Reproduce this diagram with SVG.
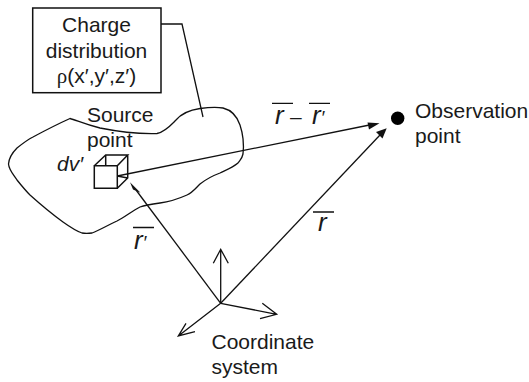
<svg xmlns="http://www.w3.org/2000/svg" width="529" height="382" viewBox="0 0 529 382">
<style>
text{font-family:"Liberation Sans",Arial,sans-serif;font-size:21px;fill:#1a1a1a;text-anchor:middle}
.l{text-anchor:start}
.i{font-style:italic}
.v{font-style:italic;font-size:26px;text-anchor:start}
.p{font-size:19px}
.s{fill:none;stroke:#111;stroke-width:1.3}
.b{fill:none;stroke:#111;stroke-width:1.5}
.h{fill:#111;stroke:none}
</style>
<g id="charge-box">
<rect x="32.700" y="8" width="128.300" height="84.700" class="b"/>
<text x="96.500" y="32">Charge</text>
<text x="96.500" y="57.500">distribution</text>
<text x="96.500" y="83"><tspan font-family="Liberation Serif, serif">ρ</tspan>(x′,y′,z′)</text>
</g>
<g id="charge-region">
<path class="s" d="M70 118.500 C76 120 84 124 100 128 C120 132 140 134 157 133.500 C165 132 172 124 176 120 C181 114 190 110 200 108.500 C208 107.500 216 107 223 108 C231 110 237 116 240 125 C243 134 244 145 243 154 C242 159 240 160 238 163 C232 168 226 170 220 173 C212 176 205 180 200 184 C195 189 192 193 187 195 C178 199 168 202 160 203 C152 204 145 205 140 207 C132 211 125 217 117 221 C108 225 100 230 92 233 C88 233.500 85 233.500 82 233 C76 231 70 227 63 222 C52 214 40 204 30 195 C25 190 21 185 17 180 C13 174 9 170 8.500 164 C9 158 13 152 17 148 C22 144 27 140 33 137 C46 130 60 123 70 118.500 Z"/>
<path class="s" d="M161 24 H182 L203 117"/>
<text x="87" y="122" class="l">Source</text>
<text x="87" y="147" class="l">point</text>
<text x="57" y="171" class="l i">dv′</text>
</g>
<g id="source-point">
<path class="b" d="M94.300 165.700 H117.300 V188.300 H94.300 Z M94.300 165.700 L105.700 155 H127.700 L117.300 165.700 M127.700 155 V178 L117.300 188.300 M105.700 155 V165.700 M117.300 176 L127.700 178"/>
</g>
<g id="observation-point">
<circle cx="397.700" cy="118.300" r="6.700" fill="#000"/>
<text x="415" y="118" class="l">Observation</text>
<text x="415" y="142.700" class="l">point</text>
</g>
<g id="coordinate-system">
<text x="211.500" y="349" class="l">Coordinate</text>
<text x="211.500" y="374" class="l">system</text>
</g>
<g id="connectors">
<path class="s" d="M117.300 176 L372 124.500"/>
<polygon class="h" points="379.500,123.200 367.500,122.500 369,129.500"/>
<path class="s" d="M220.700 303.300 L380 135"/>
<polygon class="h" points="386.700,128.300 376,132 382.500,138.500"/>
<path class="s" d="M220.700 303.300 L136 190"/>
<polygon class="h" points="130,182.300 133,189.500 140.500,192.700"/>
<path class="s" d="M220.700 303.300 V249.300 M213.300 263.300 L220.700 249.300 L228.300 263.300"/>
<path class="s" d="M220.700 303.300 L276.700 314.300 M262.300 303.300 L276.700 314.300 L260 318.700"/>
<path class="s" d="M220.700 303.300 L178.300 336 M186 323.300 L178.300 336 L195 331.700"/>
</g>
<g id="labels">
<text x="275" y="124" class="v">r</text>
<text x="290" y="124" class="l">–</text>
<text x="312" y="124" class="v">r<tspan class="p">′</tspan></text>
<text x="318" y="231" class="v">r</text>
<text x="134" y="249" class="v">r<tspan class="p">′</tspan></text>
<path class="s" d="M272 103.300 H293 M309 103.300 H330 M313 212 H334 M133 227.500 H154"/>
</g>
</svg>
